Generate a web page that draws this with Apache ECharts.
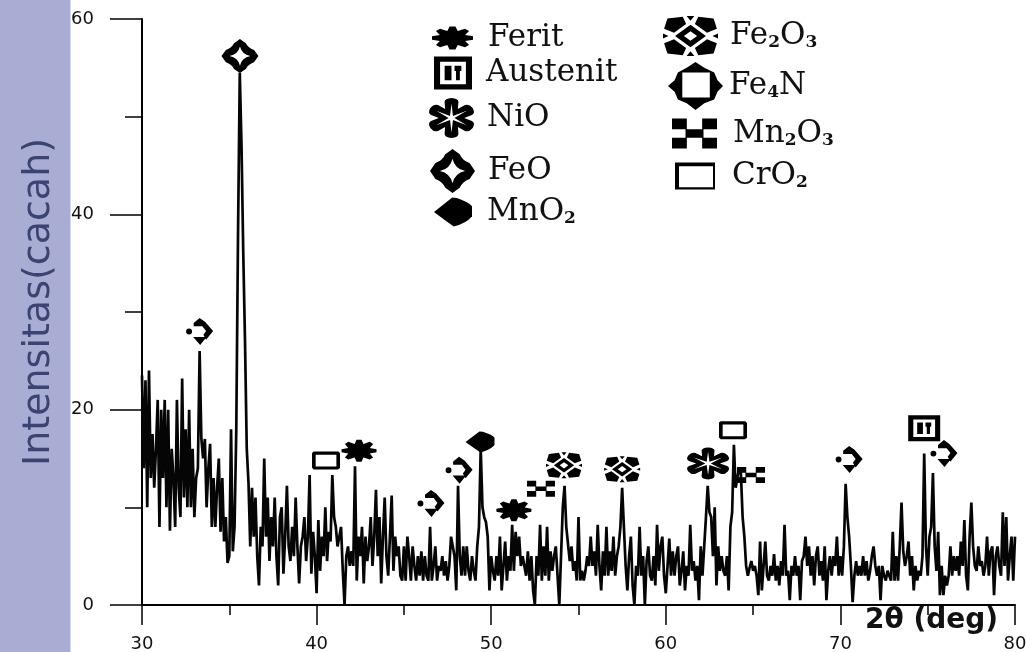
<!DOCTYPE html>
<html>
<head>
<meta charset="utf-8">
<style>html,body{margin:0;padding:0;background:#fff}#c{width:1026px;height:652px}</style>
<script src="https://cdn.jsdelivr.net/npm/echarts@6/dist/echarts.min.js"></script>
</head>
<body>
<div id="c"></div>
<script>
// ---- Diffractogram values: one reading every 0.1 deg ----
const angleStart = 30, angleStep = 0.1;
const counts30 = [23.5,14,23,10,24,13,17.5,12,16,21, 8,20,13,21,10,20,7.6,16,13,8, 21,12,9,23.2,11,18,10,20,10,16, 9,13,14,26,17,15,17,10,14,16.5, 8,13,8,12,15,7.5,13,6.5,9,4.3];
const counts35 = [5,18,5.5,8,18,38,54.5,47,36,27, 16,12.5,6,12,7,11,5,2,8,6, 15,7,11,4.5,9,6,11,5,2,9, 10,3.2,7,12.2,6,4.5,8,5,11,6, 2.2,6,7,9,4.5,7,13.3,3.2,7.5,5];
const counts40 = [1.2,8.7,3.5,7,5,10,4.5,7.5,6.5,13.3, 9,8,6,7,8,3.5,0,5,6,4, 5.5,4,14.2,2.5,7,5,8,2.2,7,4.5, 6,9,4,7,11.8,5,9,2.2,7,11, 5,3,7,11.2,3.5,7,5,6,3,2.5];
const counts45 = [6,2.5,7,5,2.5,6,4,2.5,5,3, 5.5,2.5,5,3,2.5,8,2.5,4,6,2.5, 4,3.5,5,3,4.5,2.5,4,7,7,5, 1.5,12.2,5,3,6,3,6,3.5,2.5,5, 3.5,2.5,6,8,16,10,9,8.5,7,1.5];
const counts50 = [5,3.5,2.5,5,3,7,1.5,4,6.5,2.5, 5,3.5,8.2,3.5,7.5,5,7,4,5,5.2, 3,5.5,2.5,5,1.5,0,5,3,8.2,2.5, 6,3,8,2.5,5.5,3.5,5,6,3,0, 5,10,12.2,8,8,4.5,6,3.5,4.5,2.5];
const counts55 = [9,2.5,3.5,2.5,3.5,5,4,7,4,5.5, 3,8.2,4,1.5,5.5,3,8,3,5.5,3.5, 7,3,5,6,8,12,8,4,1.5,5, 7,2,0,4,3,8,3,5,0,4.5, 6,3,2.5,5,2,8.2,3.5,6,7,3];
const counts60 = [1.2,4,6.8,3,5.5,3,5,6,2,3.5, 5.5,1.5,4,3,8.2,3.5,4.5,2.5,4,0.5, 6,3,6,9,12.2,9.5,9,5,10,2, 6,3.5,5,3.5,3,5,1.5,8,9.5,16.4, 12,13,14,13.5,9,7,4,3,3.8,4.5];
const counts65 = [3.5,4,3,1,6.5,1.5,4,6.5,3,2.5, 4,3,5.2,2.5,4,2,4.5,3,8.2,3, 3.5,0.5,4,3,5,3,4,0.5,4.5,5, 7,4,6,3,5,2,5,6,3,4.5, 2.5,6,0.5,3.5,5,3,5,4,7,3];
const counts70 = [5,3,6,12.4,9,7,4,0.3,3,4.5, 3,4,3,5,3,4.5,2.5,3.5,5,6, 4,3,4,0.5,4,3,2.5,3.5,3,2.5, 7.5,2.5,5,2.5,6,10.5,5.5,4,5,6.5, 3,5,1.5,4,2.5,3.5,3,5,15.5,6];
const counts75 = [3,7,8,13.5,6,3.5,7.5,1,4,1, 3,2,3,6,3,5,3.5,5,3,6.5, 4,8.7,3,1.5,7,10.5,6,4,3.5,6, 4,4.5,3,4,7,3,5.5,6,1,5, 6,4,3,9.5,4,9,2.5,5,7,2.5, 7];

// ---- Phase markers: peak tops, as [2theta] and [counts] ----
const phases = ['Ferit','Austenit','NiO','FeO','MnO2','Fe2O3','Fe4N','Mn2O3','CrO2'];
const feritX = [42.43,51.3],  feritY = [15.8,9.7];
const austenitX = [74.8],     austenitY = [18.1];
const nioX = [62.42],         nioY = [14.5];
const feoX = [35.61],         feoY = [56.2];
const mno2X = [49.36],        mno2Y = [16.7];
const fe2o3X = [54.17,57.5],  fe2o3Y = [14.3,13.9];
const fe4nX = [33.3,46.55,48.16,70.5,75.93], fe4nY = [28,10.4,13.8,14.9,15.5];
const mn2o3X = [52.85,64.88], mn2o3Y = [11.9,13.3];
const cro2X = [40.54,63.85],  cro2Y = [14.8,17.9];

const xTicks = {min:30,max:80,interval:10};
const yTicks = {min:0,max:60,interval:20};

// ---- Glyphs ----
function star(R,r,n,rev,cx=50,cy=50){
  let pts=[];
  for(let i=0;i<2*n;i++){const a=-Math.PI/2+i*Math.PI/n;const q=i%2?r:R;pts.push([cx+q*Math.cos(a),cy+q*Math.sin(a)]);}
  if(rev)pts.reverse();
  return 'M'+pts.map(p=>p[0].toFixed(1)+' '+p[1].toFixed(1)).join('L')+'Z';
}
function flower(R,r,n,spread){
  const P=(q,a)=>(50+q*Math.cos(a)).toFixed(1)+' '+(50+q*Math.sin(a)).toFixed(1);
  let d='';
  for(let i=0;i<n;i++){
    const a=-Math.PI/2+i*2*Math.PI/n, s=Math.PI/n;
    d+=(i?'':'M'+P(r,a-s))+'L'+P(R,a-spread)+'L'+P(R,a+spread)+'L'+P(r,a+s);
  }
  return d+'Z';
}
function roundFlower(r,R,n,spread){
  const P=(q,a)=>(50+q*Math.cos(a)).toFixed(1)+' '+(50+q*Math.sin(a)).toFixed(1);
  let d='';
  for(let i=0;i<n;i++){
    const a=-Math.PI/2+i*2*Math.PI/n, s=Math.PI/n;
    d+=(i?'':'M'+P(r,a-s))+'L'+P(R*0.85,a-spread)+'Q'+P(R*1.02,a-spread*0.8)+' '+P(R,a)+'Q'+P(R*1.02,a+spread*0.8)+' '+P(R*0.85,a+spread)+'L'+P(r,a+s);
  }
  return d+'Z';
}
const box=(x0,y0,x1,y1)=>`M${x0} ${y0}L${x1} ${y0}L${x1} ${y1}L${x0} ${y1}Z`;
const hole=(x0,y0,x1,y1)=>`M${x0} ${y0}L${x0} ${y1}L${x1} ${y1}L${x1} ${y0}Z`;
const glyph = {
  Ferit:'path://'+flower(50,33,8,0.14),
  Austenit:'path://'+box(0,0,100,100)+hole(16,16,84,84)+box(28,28,46,72)+box(54,28,72,44)+box(58,44,68,72),
  NiO:'path://'+roundFlower(26,50,6,0.34)+star(36,6,6,true),
  FeO:'path://M50 0L66 12Q72 26 88 32L100 50L88 68Q72 74 66 88L50 100L34 88Q28 74 12 68L0 50L12 32Q28 26 34 12Z M50 22Q45 45 22 50Q45 55 50 78Q55 55 78 50Q55 45 50 22Z',
  MnO2:'path://M0 50L48 0L60 2Q90 15 100 30L100 65Q85 90 52 100Q30 80 0 50Z',
  Fe2O3:'path://M8 6L36 2L42 20L20 42L2 32Z M92 6L64 2L58 20L80 42L98 32Z M8 94L36 98L42 80L20 58L2 68Z M92 94L64 98L58 80L80 58L98 68Z M50 22L78 50L50 78L22 50Z M50 38L38 50L50 62L62 50Z M43 0L57 0L50 12Z M43 100L57 100L50 88Z M0 44L10 50L0 56Z M100 44L90 50L100 56Z',
  Fe4N:'path://M0 50A11 11 0 1 0 22 50A11 11 0 1 0 0 50Z M28 18L50 0L70 14L100 48L74 80L64 62L74 48L60 30L28 30Z M26 70L76 70L52 100Z',
  Mn2O3:'path://'+box(0,0,33,36)+box(67,0,100,36)+box(0,64,33,100)+box(67,64,100,100)+box(30,36,70,64),
  CrO2:'path://M6 0L94 0L100 10L100 92L92 100L6 100L0 90L0 8Z M13 18L13 84L87 84L87 18Z'
};
const legendGlyph = Object.assign({},glyph,{
  Fe4N:'path://M50 0L66 12L84 22L90 38L100 50L90 62L84 78L66 86L50 100L34 86L18 78L12 62L0 50L12 38L18 22L34 12Z M26 22L26 74L76 74L76 22Z',
  CrO2:'path://M0 0L100 0L100 100L0 100Z M10 14L10 92L95 92L95 14Z'
});

const allCounts = [counts30,counts35,counts40,counts45,counts50,counts55,counts60,counts65,counts70,counts75].flat();
const trace = allCounts.map((v,i)=>[+(angleStart+i*angleStep).toFixed(1),v]);

const markerX={Ferit:feritX,Austenit:austenitX,NiO:nioX,FeO:feoX,MnO2:mno2X,Fe2O3:fe2o3X,Fe4N:fe4nX,Mn2O3:mn2o3X,CrO2:cro2X};
const markerY={Ferit:feritY,Austenit:austenitY,NiO:nioY,FeO:feoY,MnO2:mno2Y,Fe2O3:fe2o3Y,Fe4N:fe4nY,Mn2O3:mn2o3Y,CrO2:cro2Y};
const markerSize={Ferit:[35,22],Austenit:[32,26],NiO:[42,32],FeO:[37,34],MnO2:[29,21],Fe2O3:[36,26],Fe4N:[27,27],Mn2O3:[28,16],CrO2:[28,18]};
// left, centre y, icon width, icon height, gap before the text
const legendPlace={Ferit:[432,34,41,23,10],Austenit:[434,73,38,33,9],NiO:[429,118,45,40,8],FeO:[430,171,45,44,8],MnO2:[434,211,38,29,10],Fe2O3:[663,36,55,40,7],Fe4N:[668,86,55,48,1],Mn2O3:[672,133,45,30,11],CrO2:[675,174,40,27,12]};

const fs=31;
const legendRich={t:{fontFamily:'DejaVu Serif',fontSize:fs,color:'#111'},s:{fontFamily:'DejaVu Serif',fontSize:17,fontWeight:'bold',color:'#111',verticalAlign:'bottom'}};

const chart=echarts.init(document.getElementById('c'),null,{renderer:'canvas'});
chart.setOption({
  animation:false,
  backgroundColor:'#ffffff',
  graphic:[{type:'rect',z:-10,silent:true,shape:{x:0,y:0,width:70.5,height:652},style:{fill:'#a9add4'}}],
  grid:{left:142,right:11,top:19,bottom:47,containLabel:false,outerBoundsMode:'none'},
  legend:phases.map(p=>{
    const [l,c,w,h,g]=legendPlace[p];
    return {
      show:true,left:l,top:c-h/2,padding:0,selectedMode:false,itemWidth:w,itemHeight:h,orient:'horizontal',symbolKeepAspect:false,
      data:[{name:p,icon:legendGlyph[p]}],
      formatter:n=>n.replace(/([A-Za-z]+)(\d)?/g,(m,a,d)=>`{t|${a}}`+(d?`{s|${d}}`:'')),
      textStyle:{fontFamily:'DejaVu Serif',fontSize:fs,color:'#111',padding:[0,0,0,g],rich:legendRich},
      itemStyle:{color:'#000',borderWidth:0}
    };
  }),
  xAxis:{
    type:'value',min:xTicks.min,max:xTicks.max,interval:xTicks.interval,
    name:'2θ (deg)',nameLocation:'end',nameGap:-150,
    nameTextStyle:{fontFamily:'DejaVu Sans',fontSize:28,fontWeight:'bold',color:'#111',align:'left',verticalAlign:'top',padding:[2,0,0,0]},
    axisLine:{show:true,onZero:false,lineStyle:{color:'#000',width:2}},
    axisTick:{show:true,length:20,lineStyle:{color:'#000',width:1.5}},
    minorTick:{show:true,splitNumber:2,length:10,lineStyle:{color:'#000',width:1.5}},
    splitLine:{show:false},minorSplitLine:{show:false},
    axisLabel:{margin:30,fontFamily:'DejaVu Sans',fontSize:18,color:'#111',showMinLabel:true,showMaxLabel:true,hideOverlap:false}
  },
  yAxis:{
    type:'value',min:yTicks.min,max:yTicks.max,interval:yTicks.interval,
    name:'Intensitas(cacah)',nameLocation:'middle',nameRotate:90,nameGap:84,
    nameTextStyle:{fontFamily:'DejaVu Sans',fontSize:38,color:'#3b4373',padding:[0,0,0,20]},
    axisLine:{show:true,lineStyle:{color:'#000',width:2}},
    axisTick:{show:true,length:32,lineStyle:{color:'#000',width:1.5}},
    minorTick:{show:true,splitNumber:2,length:17,lineStyle:{color:'#000',width:1.5}},
    splitLine:{show:false},minorSplitLine:{show:false},
    axisLabel:{margin:48,fontFamily:'DejaVu Sans',fontSize:18,color:'#111'}
  },
  series:[
    {type:'line',name:'trace',data:trace,showSymbol:false,symbol:'none',smooth:false,clip:false,lineStyle:{color:'#050505',width:2.7,join:'miter',miterLimit:2},z:3,legendHoverLink:false},
    ...phases.map(p=>({
      type:'scatter',name:p,symbol:glyph[p],symbolSize:markerSize[p],z:5,clip:false,
      itemStyle:{color:'#000',opacity:1},
      data:markerX[p].map((x,i)=>[x,markerY[p][i]])
    }))
  ]
});
</script>
</body>
</html>
